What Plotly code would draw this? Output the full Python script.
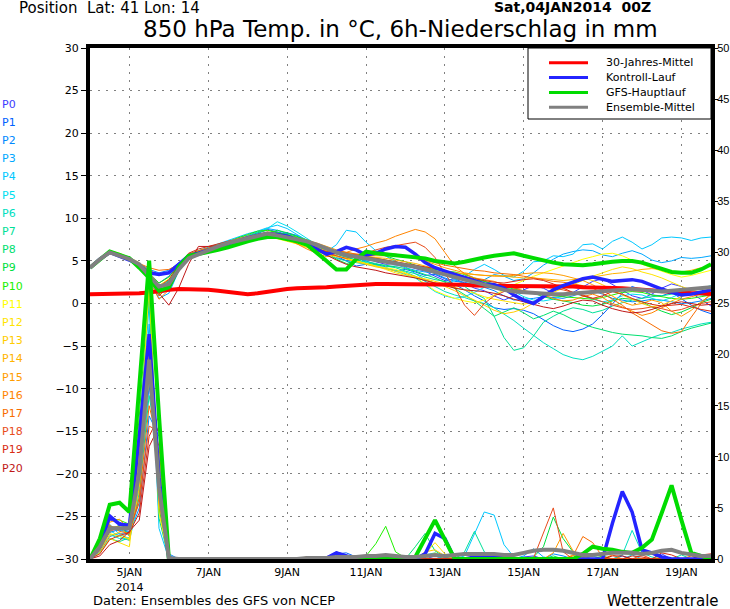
import plotly.graph_objects as go
import pandas as pd

# 6-hourly steps from 04JAN2014 00Z to 19JAN2014 18Z
times = pd.date_range('2014-01-04 00:00', periods=64, freq='6h')

# 850 hPa temperature (deg C)
temp_clim = [1.1, 1.1, 1.1, 1.1, 1.1, 1.2, 1.3, 1.5,
             1.6, 1.7, 1.7, 1.7, 1.6, 1.5, 1.4, 1.2,
             1.1, 1.2, 1.4, 1.6, 1.7, 1.8, 1.8, 1.9,
             1.9, 2.0, 2.1, 2.1, 2.2, 2.3, 2.3, 2.3,
             2.3, 2.3, 2.3, 2.3, 2.2, 2.2, 2.2, 2.1,
             2.1, 2.1, 2.1, 2.0, 2.0, 2.0, 2.0, 2.0,
             2.0, 2.0, 1.9, 1.9, 1.9, 1.8, 1.8, 1.7,
             1.6, 1.6, 1.5, 1.4, 1.3, 1.2, 1.2, 1.1]
temp_ctrl = [4.2, 5.2, 6.0, 5.6, 5.1, 4.5, 3.6, 3.4,
             3.6, 4.6, 5.6, 5.9, 6.2, 6.6, 7.0, 7.4,
             7.7, 8.0, 8.2, 8.1, 7.9, 7.5, 7.0, 6.4,
             5.8, 6.1, 6.6, 6.3, 5.7, 5.9, 6.4, 6.7,
             6.6, 5.8, 4.8, 4.2, 3.8, 3.4, 3.0, 2.6,
             2.3, 2.2, 1.8, 1.0, 0.4, 0.0, 0.8, 1.6,
             2.1, 2.5, 2.9, 3.1, 2.8, 2.6, 2.7, 2.8,
             2.6, 2.1, 1.7, 1.3, 1.0, 1.1, 1.4, 1.6]
temp_gfs = [4.2, 5.2, 6.1, 5.7, 5.3, 4.2, 3.0, 1.5,
            1.9, 4.3, 5.6, 5.8, 6.0, 6.3, 6.6, 7.0,
            7.3, 7.6, 7.8, 7.8, 7.6, 7.3, 6.9, 6.0,
            5.0, 4.0, 4.0, 5.2, 6.1, 5.9, 5.8, 5.7,
            5.6, 5.4, 5.3, 5.0, 4.8, 4.7, 4.9, 5.2,
            5.4, 5.6, 5.8, 5.9, 5.6, 5.3, 5.0, 4.8,
            4.6, 4.5, 4.5, 4.6, 4.8, 4.9, 5.0, 5.0,
            4.8, 4.4, 4.0, 3.7, 3.6, 3.6, 4.0, 4.6]
temp_mean = [4.2, 5.2, 6.0, 5.6, 5.2, 4.6, 3.3, 2.0,
             2.3, 4.0, 5.3, 5.8, 6.3, 6.7, 7.1, 7.4,
             7.7, 8.0, 8.2, 8.0, 7.8, 7.6, 7.3, 6.9,
             6.4, 6.0, 5.7, 5.5, 5.3, 5.2, 5.0, 4.8,
             4.6, 4.3, 4.0, 3.7, 3.4, 3.0, 2.7, 2.4,
             2.1, 1.8, 1.6, 1.4, 1.3, 1.2, 1.1, 1.1,
             1.1, 1.2, 1.3, 1.4, 1.5, 1.6, 1.7, 1.7,
             1.6, 1.5, 1.4, 1.5, 1.6, 1.7, 1.8, 1.9]

temp_p0 = [4.2, 5.2, 6.0, 5.6, 5.1, 4.4, 3.0, 1.2,
           1.5, 3.9, 5.6, 6.1, 6.5, 6.8, 7.2, 7.5,
           7.9, 8.2, 8.7, 8.4, 8.1, 7.6, 7.0, 6.5,
           6.0, 5.4, 5.0, 5.2, 5.3, 4.9, 4.6, 4.7,
           4.5, 4.1, 3.8, 3.2, 2.7, 2.9, 2.4, 1.8,
           1.5, 0.9, 0.4, 0.9, 1.6, 2.1, 1.8, 1.2,
           0.8, 1.3, 2.0, 2.6, 2.9, 2.2, 1.5, 0.9,
           0.6, 1.1, 1.8, 2.3, 2.0, 1.2, 0.4, -0.3]
temp_p1 = [4.2, 5.3, 6.0, 5.6, 5.2, 4.6, 3.6, 2.4,
           3.2, 4.3, 5.2, 5.7, 6.1, 6.5, 6.9, 7.3,
           7.5, 7.8, 8.0, 8.3, 7.9, 7.7, 7.4, 6.9,
           6.1, 5.6, 5.0, 4.4, 4.6, 4.5, 4.2, 3.8,
           4.0, 3.7, 3.3, 3.4, 2.9, 2.3, 1.6, 0.9,
           0.3, -0.5, -0.7, -0.6, -0.8, -1.2, -1.9, -2.6,
           -3.1, -3.3, -3.0, -2.4, -1.3, 0.0, 1.2, 2.0,
           1.6, 1.0, 0.9, 1.3, 0.5, -0.2, -0.8, -1.2]
temp_p2 = [4.2, 5.3, 6.1, 5.8, 5.3, 4.7, 4.0, 3.6,
           3.9, 4.8, 5.6, 5.8, 6.0, 6.4, 6.8, 7.1,
           7.4, 7.6, 7.9, 8.1, 8.3, 8.0, 7.4, 6.8,
           6.3, 6.1, 5.8, 5.5, 5.0, 4.6, 4.3, 4.4,
           4.5, 4.4, 4.0, 3.5, 3.0, 2.6, 2.5, 2.2,
           1.9, 1.5, 0.9, 0.4, 0.5, 0.6, 0.8, 0.7,
           0.6, 0.9, 1.3, 1.5, 1.1, 0.6, 0.4, 0.2,
           0.3, 0.5, 0.4, 0.2, 0.0, 0.1, 0.3, 0.6]
temp_p3 = [4.2, 5.2, 6.0, 5.5, 5.0, 4.3, 2.8, 0.6,
           1.2, 3.8, 5.4, 5.9, 6.4, 6.9, 7.3, 7.7,
           8.0, 8.4, 8.8, 8.6, 8.2, 7.9, 7.3, 6.7,
           6.4, 6.0, 5.7, 5.3, 5.0, 5.1, 5.0, 4.6,
           4.2, 3.9, 3.7, 3.6, 3.4, 2.8, 2.3, 2.4,
           2.8, 3.4, 3.2, 2.7, 2.9, 3.6, 4.5, 5.2,
           5.8, 6.1, 6.3, 6.2, 5.7, 5.5, 5.9, 6.2,
           5.8, 5.1, 4.8, 5.0, 5.4, 5.3, 5.4, 5.6]
temp_p4 = [4.2, 5.3, 6.2, 5.8, 5.3, 4.6, 3.3, 1.7,
           2.6, 4.6, 5.7, 6.2, 6.6, 7.0, 7.4, 7.8,
           8.2, 8.5, 8.9, 9.2, 8.8, 8.1, 7.4, 6.8,
           6.1, 6.9, 8.6, 8.4, 7.2, 6.2, 5.6, 5.0,
           4.3, 3.5, 2.8, 2.4, 2.3, 2.7, 3.2, 4.0,
           4.6, 4.0, 3.3, 3.1, 3.8, 4.9, 5.0, 5.6,
           5.5, 5.8, 6.9, 7.0, 6.4, 7.3, 7.8, 7.2,
           6.4, 6.9, 7.7, 7.8, 7.7, 7.4, 7.7, 7.8]
temp_p5 = [4.2, 5.3, 6.1, 5.7, 5.2, 4.5, 3.0, 1.1,
           2.2, 4.2, 5.4, 5.8, 6.2, 6.7, 7.1, 7.4,
           7.8, 8.3, 8.8, 9.6, 9.1, 8.4, 7.6, 6.9,
           6.3, 5.8, 5.5, 5.1, 4.8, 4.5, 4.2, 3.8,
           3.4, 3.0, 2.2, 1.4, 0.9, 0.6, 0.8, 1.3,
           1.9, 2.2, 2.0, 1.4, 0.8, 0.4, 0.3, 0.5,
           0.9, 1.2, 0.9, 0.5, 0.2, 0.4, 0.9, 1.1,
           1.0, 0.6, 0.3, 0.7, 1.2, 1.5, 1.8, 2.1]
temp_p6 = [4.2, 5.2, 6.0, 5.6, 5.1, 4.4, 2.9, 0.9,
           2.1, 4.3, 5.6, 6.0, 6.3, 6.6, 7.0, 7.4,
           7.7, 8.0, 8.3, 8.1, 7.7, 7.3, 6.9, 6.3,
           5.6, 5.3, 5.0, 4.8, 4.6, 4.4, 4.1, 3.9,
           3.7, 3.2, 2.6, 2.0, 1.4, 1.0, 0.7, 0.3,
           0.0, -0.5, -1.2, -2.0, -2.9, -3.8, -4.6, -5.3,
           -6.0, -6.4, -6.6, -6.2, -5.6, -5.0, -3.8, -5.0,
           -4.5, -4.0, -3.6, -3.4, -3.0, -2.7, -2.4, -2.2]
temp_p7 = [4.2, 5.3, 6.1, 5.7, 5.3, 4.6, 3.4, 1.9,
           2.7, 4.4, 5.5, 5.9, 6.3, 6.6, 6.9, 7.3,
           7.6, 7.8, 8.0, 8.2, 8.0, 7.5, 7.1, 6.7,
           6.2, 5.8, 5.4, 5.1, 4.9, 4.7, 4.4, 4.2,
           3.8, 3.5, 3.1, 2.8, 2.6, 2.3, 2.0, 1.2,
           0.6, -1.5, -4.0, -5.5, -5.2, -3.8, -2.2, -1.5,
           -0.9, -0.5, -0.7, -1.1, -0.8, -0.3, 0.1, 0.4,
           0.6, 0.8, 0.9, 1.1, 1.3, 1.2, 1.0, 0.9]
temp_p8 = [4.2, 5.2, 6.1, 5.7, 5.2, 4.5, 3.1, 1.3,
           2.4, 4.5, 5.8, 6.2, 6.5, 6.8, 7.1, 7.5,
           7.9, 8.3, 8.6, 8.4, 8.0, 7.6, 7.2, 6.8,
           6.4, 6.0, 5.5, 5.0, 4.7, 4.6, 4.5, 4.3,
           4.1, 3.8, 3.4, 3.0, 2.5, 1.8, 1.0, 0.3,
           -0.6, -1.5, -1.0, -0.5, -1.1, -1.8, -1.4, -0.9,
           -1.3, -1.9, -2.4, -2.8, -3.1, -3.4, -3.6, -3.7,
           -3.8, -4.0, -4.1, -3.8, -3.3, -2.9, -2.6, -2.3]
temp_p9 = [4.2, 5.3, 6.0, 5.6, 5.1, 4.5, 3.3, 1.6,
           2.6, 4.2, 5.3, 5.9, 6.4, 6.9, 7.3, 7.6,
           7.8, 8.0, 8.2, 8.6, 8.3, 7.9, 7.2, 6.6,
           6.0, 5.2, 4.7, 4.9, 5.4, 5.8, 5.6, 5.2,
           4.9, 4.5, 4.2, 3.9, 3.5, 3.1, 2.9, 2.8,
           2.6, 2.3, 2.0, 1.7, 1.5, 1.2, 0.8, 0.5,
           0.3, 0.1, -0.2, -0.3, -0.1, 0.3, 0.6, 0.5,
           0.2, -0.4, -0.9, -1.3, -1.0, -0.5, 0.1, 0.5]
temp_p10 = [4.2, 5.2, 6.1, 5.8, 5.3, 4.7, 3.6, 2.4,
            3.1, 4.6, 5.7, 6.1, 6.4, 6.7, 7.2, 7.7,
            8.1, 8.5, 8.6, 8.3, 8.1, 7.8, 7.5, 7.0,
            6.5, 6.2, 5.9, 5.6, 5.4, 5.3, 5.1, 4.9,
            4.6, 4.4, 4.2, 4.0, 3.8, 3.7, 3.4, 3.0,
            2.6, 2.2, 1.8, 1.6, 1.4, 1.3, 1.1, 0.9,
            0.8, 0.7, 0.6, 0.5, 0.7, 1.0, 1.3, 1.4,
            1.3, 1.0, 0.8, 0.6, 0.5, 0.6, 0.8, 1.0]
temp_p11 = [4.2, 5.3, 6.2, 5.9, 5.4, 4.8, 3.7, 2.1,
            2.9, 4.0, 5.2, 5.7, 6.0, 6.3, 6.7, 7.0,
            7.3, 7.6, 7.8, 7.6, 7.3, 7.0, 6.6, 6.1,
            5.7, 5.5, 5.3, 5.0, 4.7, 4.4, 4.2, 4.0,
            3.6, 3.1, 2.3, 1.5, 1.0, 0.6, 0.3, 0.1,
            0.4, 1.0, 1.6, 2.2, 2.7, 3.2, 3.6, 4.0,
            4.4, 4.8, 5.2, 5.5, 5.8, 5.9, 5.6, 5.1,
            4.6, 4.2, 3.8, 3.4, 3.1, 3.3, 3.6, 3.9]
temp_p12 = [4.2, 5.2, 6.0, 5.6, 5.1, 4.4, 3.0, 1.0,
            1.9, 4.1, 5.3, 5.8, 6.1, 6.5, 6.9, 7.2,
            7.5, 7.7, 8.0, 7.7, 7.4, 7.0, 6.6, 6.2,
            5.9, 5.6, 5.3, 5.0, 4.7, 4.4, 4.0, 3.6,
            3.3, 3.1, 2.9, 2.6, 2.3, 1.9, 1.6, 1.2,
            0.8, 0.5, 0.3, 0.1, -0.1, 0.2, 0.7, 1.3,
            1.8, 2.2, 2.7, 3.2, 3.6, 4.0, 4.3, 4.1,
            3.7, 3.4, 3.0, 2.5, 2.0, 1.6, 1.3, 1.1]
temp_p13 = [4.2, 5.3, 6.1, 5.7, 5.2, 4.6, 3.3, 1.4,
            2.3, 4.4, 5.6, 6.0, 6.4, 6.8, 7.1, 7.4,
            7.7, 8.0, 8.3, 8.2, 7.9, 7.6, 7.1, 6.5,
            6.0, 5.6, 5.2, 4.9, 4.6, 4.3, 4.1, 3.8,
            3.5, 3.2, 2.8, 2.4, 2.0, 1.5, 0.9, 0.4,
            -0.2, -0.8, -1.2, -1.0, -0.6, 0.1, 0.8, 1.4,
            2.0, 2.6, 3.0, 2.7, 2.2, 1.6, 1.0, 0.5,
            0.0, -0.4, -0.2, 0.3, 0.8, 1.2, 1.4, 1.6]
temp_p14 = [4.2, 5.2, 6.1, 5.7, 5.2, 4.5, 3.2, 1.2,
            2.2, 4.3, 5.5, 6.0, 6.3, 6.6, 6.9, 7.3,
            7.6, 7.9, 8.1, 7.9, 7.6, 7.3, 6.9, 6.5,
            6.2, 6.0, 5.8, 5.7, 5.6, 5.4, 5.3, 5.1,
            4.9, 4.7, 4.4, 4.1, 3.8, 3.6, 3.5, 3.4,
            3.3, 3.3, 3.2, 3.1, 3.0, 3.0, 2.9, 2.8,
            2.7, 2.8, 2.9, 3.1, 3.3, 3.5, 3.6, 3.8,
            4.0, 4.1, 4.0, 3.8, 3.7, 3.9, 4.2, 4.4]
temp_p15 = [4.2, 5.3, 6.1, 5.7, 5.3, 4.6, 3.9, 3.3,
            3.6, 4.4, 5.7, 6.1, 6.5, 6.9, 7.3, 7.6,
            7.9, 8.1, 8.2, 8.0, 7.8, 7.6, 7.4, 7.1,
            6.7, 6.3, 6.0, 5.8, 5.7, 5.6, 5.6, 5.6,
            5.5, 5.3, 5.0, 4.6, 4.2, 3.9, 3.6, 3.4,
            3.3, 3.2, 3.2, 3.3, 3.5, 3.6, 3.6, 3.5,
            3.3, 3.0, 2.7, 2.2, 1.5, 0.8, 0.2, -0.2,
            0.0, 0.4, 0.1, -0.9, -1.5, -0.8, 0.2, 1.0]
temp_p16 = [4.2, 5.2, 6.0, 5.6, 5.1, 4.4, 2.7, 0.5,
            1.6, 4.0, 5.4, 5.9, 6.3, 6.7, 7.0, 7.4,
            7.7, 8.0, 8.3, 8.0, 7.6, 7.0, 6.4, 5.9,
            5.5, 5.7, 6.0, 6.4, 6.7, 7.1, 7.4, 7.9,
            8.3, 8.7, 8.4, 7.6, 6.0, 4.4, 3.5, 3.0,
            2.8, 2.6, 2.2, 1.8, 1.5, 1.3, 1.0, 0.6,
            0.3, 0.4, 0.8, 1.1, 0.7, 0.0, -0.4, -0.9,
            -1.4, -1.1, -0.5, 0.0, 0.5, 0.8, 1.1, 1.3]
temp_p17 = [4.2, 5.3, 6.1, 5.7, 5.3, 4.7, 4.2, 3.9,
            4.0, 4.6, 5.8, 6.2, 6.5, 6.8, 7.1, 7.4,
            7.7, 7.9, 8.1, 7.9, 7.7, 7.4, 7.0, 6.7,
            6.4, 6.2, 6.0, 5.8, 5.7, 5.8, 5.9, 5.8,
            5.6, 5.4, 5.1, 4.8, 4.5, 4.3, 4.1, 3.9,
            3.8, 3.6, 3.5, 3.4, 3.2, 3.0, 2.8, 2.6,
            2.5, 2.3, 2.1, 1.8, 1.2, 0.5, -0.2, -1.1,
            -1.8, -2.6, -3.2, -3.5, -3.3, -1.6, 0.0, 1.2]
temp_p18 = [4.2, 5.2, 6.0, 5.6, 5.1, 4.5, 3.1, 0.9,
            2.0, 4.2, 5.5, 6.0, 6.4, 6.8, 7.2, 7.5,
            7.8, 8.1, 8.4, 8.2, 7.9, 7.5, 7.0, 6.5,
            6.0, 5.6, 5.3, 5.5, 5.9, 6.3, 6.6, 6.8,
            7.0, 7.2, 6.6, 5.4, 3.5, 1.9, -0.2, -1.4,
            0.0, 0.9, 1.4, 1.7, 1.9, 2.0, 1.9, 1.8,
            1.6, 1.3, 1.0, 0.6, 0.2, -0.2, -0.5, -0.7,
            -0.6, -0.4, -0.6, -0.9, -0.7, -0.3, 0.0, 0.2]
temp_p19 = [4.2, 5.3, 6.1, 5.8, 5.3, 4.7, 3.5, 2.0,
            2.8, 4.6, 5.9, 6.4, 6.7, 7.0, 7.3, 7.5,
            7.8, 8.0, 8.1, 7.9, 7.6, 7.2, 6.8, 6.4,
            6.1, 5.9, 5.8, 5.7, 5.5, 5.3, 5.1, 4.9,
            4.7, 4.5, 4.3, 4.1, 3.8, 3.5, 3.2, 2.9,
            2.7, 2.5, 2.4, 2.6, 2.8, 2.9, 2.7, 2.3,
            1.8, 1.3, 0.9, 0.6, 0.9, 1.4, 1.1, 0.6,
            0.2, -0.1, -0.3, -0.2, -0.1, -0.4, -0.7, -0.9]
temp_p20 = [4.2, 5.2, 6.0, 5.6, 5.1, 4.4, 2.8, 1.2,
            -0.2, 1.8, 4.6, 6.7, 6.7, 6.8, 7.0, 7.3,
            7.6, 7.9, 8.2, 8.1, 7.8, 7.4, 6.9, 6.3,
            5.7, 5.1, 4.6, 4.3, 4.1, 3.9, 3.6, 3.4,
            3.2, 3.0, 2.7, 2.4, 2.1, 1.8, 1.6, 1.5,
            1.4, 1.2, 0.9, 0.5, 0.2, -0.1, -0.4, -0.6,
            -0.3, 0.1, 0.4, 0.3, -0.2, -0.6, -0.9, -1.1,
            -1.0, -0.7, -0.3, 0.0, 0.2, 0.0, -0.2, -0.1]

# 6h precipitation (mm)
prec_ctrl = [0, 1.2, 4.2, 3.4, 3.3, 12.0, 22.0, 8.0, 0, 0, 0, 0, 0, 0, 0, 0,
             0, 0, 0, 0, 0, 0, 0, 0, 0.1, 0.6, 0.3, 0, 0, 0, 0, 0,
             0, 0, 0.5, 2.5, 2.0, 0, 0, 0.2, 0.2, 0.2, 0.1, 0, 0, 0, 0, 0,
             0, 0, 0, 0, 0, 3.5, 6.6, 4.6, 0.9, 0.6, 0.2, 0, 0, 0, 0, 0]
prec_gfs = [0, 2.0, 5.3, 5.5, 4.6, 16.5, 29.2, 14.0, 0, 0, 0, 0, 0, 0, 0, 0,
            0, 0, 0, 0, 0, 0, 0, 0, 0, 0, 0, 0, 0, 0, 0, 0,
            0, 0.2, 1.9, 3.8, 1.9, 0, 0, 0, 0, 0, 0, 0, 0, 0, 0, 0,
            0, 0, 0.5, 1.2, 1.0, 0.9, 0.7, 0.6, 1.1, 1.9, 4.5, 7.2, 3.8, 0.6, 0.3, 0]
prec_mean = [0, 1.2, 3.0, 3.0, 3.0, 8.5, 19.5, 7.0, 0.1, 0, 0, 0, 0, 0, 0, 0,
             0, 0, 0, 0, 0, 0, 0.1, 0.1, 0.1, 0.2, 0.2, 0.2, 0.3, 0.3, 0.4, 0.3,
             0.2, 0.2, 0.3, 0.4, 0.3, 0.4, 0.5, 0.5, 0.5, 0.5, 0.4, 0.4, 0.6, 0.8, 0.9, 0.9,
             0.8, 0.6, 0.4, 0.4, 0.5, 0.6, 0.6, 0.6, 0.5, 0.6, 0.8, 0.9, 0.6, 0.4, 0.3, 0.3]

prec_p0 = [0, 1.0, 3.8, 3.6, 3.2, 10.0, 21.0, 6.0, 0, 0, 0, 0, 0, 0, 0, 0,
           0, 0, 0, 0, 0, 0, 0, 0, 0.2, 0.7, 0.4, 0, 0, 0, 0, 0,
           0, 0, 0, 0.3, 0, 0, 0, 0, 0, 0, 0, 0, 0.2, 0.3, 0, 0,
           0, 0, 0, 0, 0, 0, 0, 0, 0, 0, 0.5, 0, 0, 0, 0, 0]
prec_p1 = [0, 0.8, 2.6, 2.9, 2.7, 7.0, 17.0, 9.0, 0.3, 0, 0, 0, 0, 0, 0, 0,
           0, 0, 0, 0, 0, 0, 0, 0, 0, 0.5, 0.6, 0.2, 0, 0, 0, 0,
           0, 0, 0, 0, 0, 0, 0, 0, 0, 0.3, 0, 0, 0, 0, 0, 0,
           0, 0, 0, 0, 0, 0, 0.3, 0, 0, 0, 0, 0, 0, 0, 0, 0]
prec_p2 = [0, 0.7, 2.2, 2.5, 2.4, 5.0, 14.0, 12.0, 0.5, 0, 0, 0, 0, 0, 0, 0,
           0, 0, 0, 0, 0, 0, 0, 0, 0, 0, 0.3, 0, 0, 0, 0, 0,
           0, 0, 0, 0, 0.2, 0, 0, 0, 0, 0, 0, 0, 0, 0, 0, 0.5,
           0.3, 0, 0, 0, 0, 0, 0, 0, 0, 0, 0, 0, 0, 0, 0, 0]
prec_p3 = [0, 1.1, 3.0, 2.8, 2.6, 9.0, 23.0, 5.0, 0, 0, 0, 0, 0, 0, 0, 0,
           0, 0, 0, 0, 0, 0, 0, 0, 0, 0, 0, 0, 0, 0, 0, 0,
           0, 0, 0, 0, 0, 0, 0, 0, 0, 0, 0, 0, 0.3, 1.0, 0.2, 0,
           0, 0, 0, 0, 0, 0, 0, 0, 0, 0, 0, 0, 0, 0, 0, 0]
prec_p4 = [0, 1.3, 3.4, 2.4, 2.0, 11.0, 25.0, 3.0, 0, 0, 0, 0, 0, 0, 0, 0,
           0, 0, 0, 0, 0, 0, 0, 0, 0, 0, 0, 0, 0, 0, 0, 0,
           0, 0, 0, 0, 0, 0, 0.3, 2.4, 4.6, 4.3, 1.4, 0.2, 0, 0, 0, 0,
           0, 0, 0, 0, 0, 0, 0, 0.4, 0, 0, 0, 0, 0, 0, 0, 0]
prec_p5 = [0, 0.9, 2.8, 2.2, 1.8, 6.0, 18.0, 8.0, 0, 0, 0, 0, 0, 0, 0, 0,
           0, 0, 0, 0, 0, 0, 0, 0, 0, 0, 0, 0, 0, 0, 0, 0,
           0, 0, 0, 0, 0.3, 0.4, 0, 0, 0, 0, 0, 0, 0, 0, 0, 0,
           0, 0, 0, 0.3, 0, 0, 0, 0, 0, 0, 0, 0, 0, 0, 0, 0]
prec_p6 = [0, 1.0, 2.4, 2.0, 1.9, 7.5, 20.0, 7.0, 0, 0, 0, 0, 0, 0, 0, 0,
           0, 0, 0, 0, 0, 0, 0, 0, 0, 0, 0, 0, 0, 0, 0, 0,
           0, 0, 0.4, 0.6, 0.2, 0, 0, 0, 0, 0, 0, 0, 0, 0, 0, 0,
           0, 0, 0, 0, 0, 0, 0.4, 2.8, 0.6, 0.2, 0, 0, 0, 0, 0, 0]
prec_p7 = [0, 0.6, 2.0, 1.7, 2.1, 6.5, 16.0, 10.0, 0, 0, 0, 0, 0, 0, 0, 0,
           0, 0, 0, 0, 0, 0, 0, 0, 0, 0, 0, 0, 0, 0, 0, 0,
           0, 0, 0, 0, 0, 0, 0.7, 2.7, 0.7, 0.2, 0, 0, 0, 0, 0, 0,
           0, 0, 0, 0, 0, 0, 0, 0, 0, 0, 0, 0, 0.4, 0, 0, 0]
prec_p8 = [0, 1.2, 3.2, 3.0, 2.5, 12.0, 26.0, 4.0, 0, 0, 0, 0, 0, 0, 0, 0,
           0, 0, 0, 0, 0, 0, 0, 0, 0, 0, 0, 0, 0, 0, 0, 0,
           0, 1.2, 2.5, 0.8, 0.2, 0, 0, 0, 0, 0, 0, 0, 0, 0, 0, 0.3,
           0, 0, 0, 0, 0, 0, 0, 0, 0, 0, 0, 0, 0, 0, 0, 0]
prec_p9 = [0, 1.0, 2.9, 3.3, 3.0, 9.5, 22.0, 6.5, 0, 0, 0, 0, 0, 0, 0, 0,
           0, 0, 0, 0, 0, 0, 0, 0, 0, 0, 0, 0, 0, 0, 0, 0,
           0, 0, 0, 0, 0, 0, 0, 0, 0, 0, 0, 0, 0, 0.2, 1.2, 4.1,
           2.0, 0.7, 0.2, 0, 0, 0, 0, 0, 0, 0, 0, 0, 0, 0, 0, 0.2]
prec_p10 = [0, 1.5, 4.0, 3.8, 3.4, 14.0, 27.0, 5.0, 0, 0, 0, 0, 0, 0, 0, 0,
            0, 0, 0, 0, 0, 0, 0, 0, 0, 0, 0, 0, 0.3, 1.5, 3.2, 0.7,
            0.1, 0, 0, 0, 0, 0, 0, 0, 0, 0, 0, 0, 0, 0, 0, 0,
            0, 0, 0, 0, 0.3, 0, 0, 0, 0, 0, 0, 0, 0, 0, 0, 0]
prec_p11 = [0, 0.9, 2.5, 2.2, 2.0, 8.0, 19.0, 7.5, 0, 0, 0, 0, 0, 0, 0, 0,
            0, 0, 0, 0, 0, 0, 0, 0, 0, 0, 0, 0, 0, 0, 0, 0,
            0, 0, 0, 0.6, 0, 0, 0, 0, 0, 0, 0, 0, 0, 0, 0, 0,
            0, 0, 0.2, 0, 0, 0, 0, 0, 0, 0, 0, 0, 0, 0, 0, 0]
prec_p12 = [0, 0.6, 2.0, 1.6, 1.2, 10.0, 27.0, 4.5, 0, 0, 0, 0, 0, 0, 0, 0,
            0, 0, 0, 0, 0, 0, 0, 0, 0, 0, 0, 0, 0, 0, 0, 0,
            0, 0, 0.5, 1.6, 0.5, 0, 0, 0, 0, 0, 0, 0, 0, 0, 0, 0,
            0, 0, 0, 0, 0, 0, 0, 0, 0, 0, 0, 0, 0, 0, 0, 0]
prec_p13 = [0, 0.8, 2.3, 2.6, 1.8, 7.0, 18.0, 9.5, 0, 0, 0, 0, 0, 0, 0, 0,
            0, 0, 0, 0, 0, 0, 0, 0, 0, 0, 0, 0, 0, 0, 0, 0,
            0, 0, 0.7, 0.9, 0.3, 0, 0, 0, 0, 0, 0, 0, 0, 0, 0, 0,
            0, 0, 0, 0, 0, 0, 0, 0, 0, 0, 0.2, 0, 0, 0, 0, 0]
prec_p14 = [0, 1.1, 3.1, 3.2, 2.2, 8.5, 20.0, 6.0, 0, 0, 0, 0, 0, 0, 0, 0,
            0, 0, 0, 0, 0, 0, 0.2, 0.2, 0, 0, 0, 0, 0, 0, 0, 0,
            0, 0, 0, 0, 0, 0, 0, 0, 0, 0, 0, 0, 0, 0, 0, 0,
            0, 0.4, 0, 0, 0, 0, 0, 0, 0, 0, 0, 0, 0, 0, 0, 0]
prec_p15 = [0, 1.0, 3.6, 3.9, 2.8, 9.0, 21.0, 5.5, 0, 0, 0, 0, 0, 0, 0, 0,
            0, 0, 0, 0, 0, 0, 0.2, 0.2, 0, 0, 0, 0, 0, 0, 0, 0,
            0, 0, 0, 0, 0, 0, 0, 0, 0, 0, 0, 0, 0, 0, 0, 0.6,
            2.5, 0.8, 0.1, 0, 0, 0, 0, 0, 0, 0, 0, 0, 0, 0, 0, 0]
prec_p16 = [0, 1.8, 4.2, 3.5, 3.0, 10.5, 22.0, 7.0, 0, 0, 0, 0, 0, 0, 0, 0,
            0, 0, 0, 0, 0, 0, 0, 0.2, 0, 0, 0, 0, 0, 0, 0, 0,
            0, 0, 0, 0, 0, 0, 0, 0, 0.3, 0, 0, 0, 0, 0, 0, 0,
            0, 0, 0, 0, 0, 0.4, 0, 0, 0, 0, 0, 0, 0, 0, 0, 0]
prec_p17 = [0, 1.4, 3.3, 2.7, 2.5, 6.0, 15.0, 11.0, 0, 0, 0, 0, 0, 0, 0, 0,
            0, 0, 0, 0, 0, 0, 0, 0, 0, 0, 0, 0, 0, 0, 0, 0,
            0, 0, 0, 0, 0, 0, 0, 0, 0, 0, 0, 0, 0, 0, 0, 0,
            0, 0.3, 2.2, 1.6, 0.2, 0, 0, 0, 0, 0, 0, 0, 0, 0.3, 0, 0]
prec_p18 = [0, 0.9, 2.7, 3.1, 2.9, 5.5, 13.0, 12.5, 0, 0, 0, 0, 0, 0, 0, 0,
            0, 0, 0, 0, 0, 0, 0, 0, 0, 0, 0, 0, 0, 0, 0, 0,
            0, 0, 0, 0, 0, 0, 0, 0, 0, 0, 0, 0, 0, 0.1, 2.6, 5.0,
            0.7, 0, 0, 0, 0, 0, 0, 0, 0.4, 0, 0, 0, 0, 0, 0, 0]
prec_p19 = [0, 0.5, 1.9, 2.3, 2.6, 4.5, 12.0, 14.0, 0.2, 0, 0, 0, 0, 0, 0, 0,
            0, 0, 0, 0, 0, 0, 0, 0, 0, 0, 0, 0, 0, 0, 0, 0,
            0, 0, 0, 0, 0, 0, 0, 0, 0, 0, 0, 0, 0, 0, 0, 0,
            0, 0, 0, 0, 0, 0, 0, 0.3, 0.2, 0, 0.6, 0.4, 0, 0, 0, 0]
prec_p20 = [0, 0.3, 1.4, 1.8, 2.7, 3.8, 11.0, 13.0, 0, 0, 0, 0, 0, 0, 0, 0,
            0, 0, 0, 0, 0, 0, 0, 0, 0, 0, 0, 0, 0, 0, 0, 0,
            0, 0, 0, 0, 0, 0, 0, 0, 0, 0, 0, 0, 0, 0, 0, 0,
            0, 0, 0, 0, 0, 0.3, 0.3, 0, 0, 0, 0, 0, 0, 0, 0.4, 0.5]

member_names = ['P0', 'P1', 'P2', 'P3', 'P4', 'P5', 'P6', 'P7', 'P8', 'P9', 'P10',
                'P11', 'P12', 'P13', 'P14', 'P15', 'P16', 'P17', 'P18', 'P19', 'P20']
member_colors = ['#3c3cff', '#0060ff', '#0088ff', '#00a8ff', '#00c8ff', '#00e0f0', '#00e0c0',
                 '#00e098', '#00e070', '#00e040', '#20f000', '#ffff00', '#ffe400', '#ffcc00',
                 '#ffb400', '#ff9c00', '#ff8400', '#f86c00', '#e84c1c', '#d82c14', '#c01818']
member_temps = [temp_p0, temp_p1, temp_p2, temp_p3, temp_p4, temp_p5, temp_p6, temp_p7,
                temp_p8, temp_p9, temp_p10, temp_p11, temp_p12, temp_p13, temp_p14,
                temp_p15, temp_p16, temp_p17, temp_p18, temp_p19, temp_p20]
member_precs = [prec_p0, prec_p1, prec_p2, prec_p3, prec_p4, prec_p5, prec_p6, prec_p7,
                prec_p8, prec_p9, prec_p10, prec_p11, prec_p12, prec_p13, prec_p14,
                prec_p15, prec_p16, prec_p17, prec_p18, prec_p19, prec_p20]

for series in member_temps + member_precs + [temp_clim, temp_ctrl, temp_gfs, temp_mean,
                                             prec_ctrl, prec_gfs, prec_mean]:
    assert len(series) == len(times), len(series)

tick_days = ['2014-01-05', '2014-01-07', '2014-01-09', '2014-01-11',
             '2014-01-13', '2014-01-15', '2014-01-17', '2014-01-19']
tick_text = ['5JAN<br>2014', '7JAN', '9JAN', '11JAN', '13JAN', '15JAN', '17JAN', '19JAN']

legend_names = ['30-Jahres-Mittel', 'Kontroll-Lauf', 'GFS-Hauptlauf', 'Ensemble-Mittel']
legend_colors = ['#ff0000', '#2424ff', '#00dc00', '#808080']

FONT = 'DejaVu Sans'


# plot area is 90..711 px wide and 48..559 px high
def px_x(p):
    return (p - 90) / 621.0


def px_y(p):
    return (559 - p) / 511.0


fig = go.Figure()

for name, color, temp in zip(member_names, member_colors, member_temps):
    fig.add_trace(go.Scatter(x=times, y=temp, mode='lines', name=name,
                             line=dict(color=color, width=1), hoverinfo='skip'))

thick = [(temp_clim, legend_colors[0], 4), (temp_ctrl, legend_colors[1], 3.5),
         (temp_gfs, legend_colors[2], 4), (temp_mean, legend_colors[3], 4)]
for temp, color, width in thick:
    fig.add_trace(go.Scatter(x=times, y=temp, mode='lines',
                             line=dict(color=color, width=width), hoverinfo='skip'))

for name, color, prec in zip(member_names, member_colors, member_precs):
    fig.add_trace(go.Scatter(x=times, y=prec, mode='lines', name=name, yaxis='y2',
                             line=dict(color=color, width=1), hoverinfo='skip'))

for prec, color, width in [(prec_ctrl, legend_colors[1], 3.5), (prec_gfs, legend_colors[2], 4),
                           (prec_mean, legend_colors[3], 4)]:
    fig.add_trace(go.Scatter(x=times, y=prec, mode='lines', yaxis='y2',
                             line=dict(color=color, width=width), hoverinfo='skip'))

annotations = []
shapes = []

# member labels down the left margin
for i, (name, color) in enumerate(zip(member_names, member_colors)):
    annotations.append(dict(text=name, x=px_x(0), y=px_y(104 + 18.2 * i), xanchor='left',
                            yanchor='middle', font=dict(family=FONT, size=11, color=color)))

# legend box in the upper right corner
shapes.append(dict(type='rect', xref='paper', yref='paper', x0=px_x(528), x1=1,
                   y0=px_y(119), y1=1, line=dict(color='black', width=1),
                   fillcolor='white', layer='above'))
for i, (name, color) in enumerate(zip(legend_names, legend_colors)):
    y = px_y(62.7 + 14.85 * i)
    shapes.append(dict(type='line', xref='paper', yref='paper', x0=px_x(549), x1=px_x(588),
                       y0=y, y1=y, line=dict(color=color, width=3), layer='above'))
    annotations.append(dict(text=name, x=px_x(604), y=y, xanchor='left', yanchor='middle',
                            font=dict(family=FONT, size=11, color='black')))

annotations += [
    dict(text='Position  Lat: 41 Lon: 14', x=px_x(17), y=px_y(8), xanchor='left',
         yanchor='middle', font=dict(family=FONT, size=15, color='black')),
    dict(text='850 hPa Temp. in °C, 6h-Niederschlag in mm', x=px_x(400), y=px_y(29),
         xanchor='center', yanchor='middle', font=dict(family=FONT, size=23, color='black')),
    dict(text='<b>Sat,04JAN2014  00Z</b>', x=px_x(492), y=px_y(7), xanchor='left',
         yanchor='middle', font=dict(family=FONT, size=14, color='black')),
    dict(text='Daten: Ensembles des GFS von NCEP', x=px_x(91), y=px_y(601), xanchor='left',
         yanchor='middle', font=dict(family=FONT, size=13, color='black')),
    dict(text='Wetterzentrale', x=px_x(721), y=px_y(601), xanchor='right',
         yanchor='middle', font=dict(family=FONT, size=15, color='black')),
]
for a in annotations:
    a.update(xref='paper', yref='paper', showarrow=False)

fig.update_layout(
    width=730, height=609,
    margin=dict(l=90, r=19, t=48, b=50, autoexpand=False),
    paper_bgcolor='white', plot_bgcolor='white',
    showlegend=False,
    font=dict(family=FONT, size=11, color='black'),
    xaxis=dict(type='date', range=['2014-01-04 00:00', '2014-01-19 18:00'],
               tickvals=tick_days, ticktext=tick_text, ticks='', automargin=False,
               showgrid=True, gridcolor='#808080', gridwidth=1, griddash='2px,6px',
               showline=True, linecolor='black', linewidth=4, mirror=True,
               tickfont=dict(family=FONT, size=11)),
    yaxis=dict(range=[-30, 30], tick0=-30, dtick=5, ticks='outside', ticklen=5,
               tickcolor='black', showgrid=True, gridcolor='#808080', gridwidth=1,
               griddash='2px,6px', zeroline=False, showline=True, linecolor='black',
               linewidth=4, mirror=True, automargin=False,
               tickfont=dict(family=FONT, size=11)),
    yaxis2=dict(range=[0, 50], tick0=0, dtick=5, overlaying='y', side='right',
                ticks='outside', ticklen=3, tickcolor='black', showgrid=False,
                zeroline=False, showline=True, linecolor='black', linewidth=4,
                automargin=False, ticklabelstandoff=-3,
                tickfont=dict(family='Liberation Sans', size=11)),
    annotations=annotations,
    shapes=shapes,
)

# the page body has a default 8px margin; drop it so the figure sits at the window corner
fig.write_html('out.html', config={'displayModeBar': False},
               post_script="document.body.style.margin='0px';")
